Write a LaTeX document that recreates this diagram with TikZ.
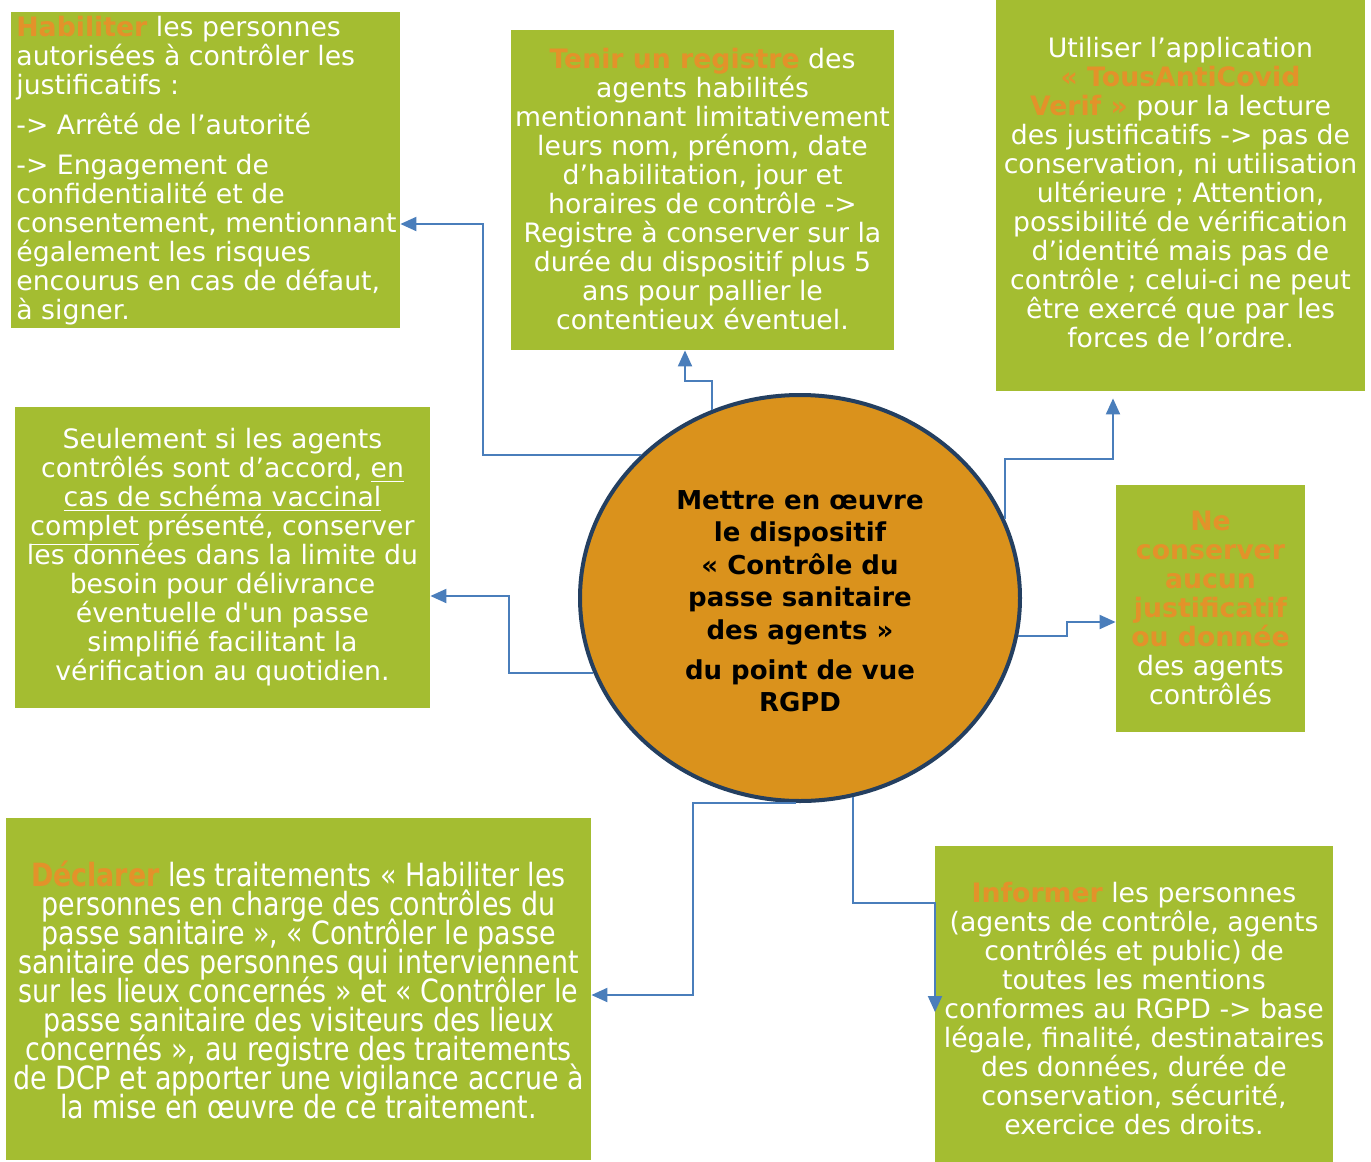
\documentclass[tikz,border=0pt]{standalone}
\usepackage{fontspec}
\setmainfont{DejaVu Sans}
\newfontfamily\condfont{DejaVu Sans}[FakeStretch=0.84]
\usetikzlibrary{arrows.meta,shapes.geometric}
\definecolor{boxgreen}{HTML}{A4BD31}
\definecolor{hiorange}{HTML}{E3922A}
\definecolor{circfill}{HTML}{DA921C}
\definecolor{circline}{HTML}{243F60}
\definecolor{linkblue}{HTML}{4A7EBB}
\newcommand\hl[1]{\textcolor{hiorange}{\bfseries #1}}
\lineskiplimit=-100pt
\tikzset{
  gbox/.style={rectangle, fill=boxgreen, inner sep=0pt},
  gtext/.style={inner sep=0pt, text=white, align=center, font=\fontsize{13.35}{14.5}\selectfont},
  ctext/.style={inner sep=0pt, text=white, align=center, font=\condfont\fontsize{16}{14.5}\selectfont},
  conn/.style={draw=linkblue, line width=1pt, -{Triangle[length=8pt,width=7pt]}},
}
\begin{document}
\begin{tikzpicture}[x=0.5pt,y=-0.5pt]
\fill[white] (0,0) rectangle (1371,1162);
\useasboundingbox (0,0) rectangle (1371,1162);

% boxes
\node[gbox, minimum width=194.5pt, minimum height=158pt] (tl) at (205.5,170) {};
\node[gbox, minimum width=191.5pt, minimum height=160pt] (tm) at (702.5,190) {};
\node[gbox, minimum width=184.5pt, minimum height=195.5pt] (tr) at (1180.5,195.5) {};
\node[gbox, minimum width=207.5pt, minimum height=150.5pt] (ml) at (222.5,557.5) {};
\node[gbox, minimum width=94.5pt, minimum height=123.5pt] (mr) at (1210.5,608.5) {};
\node[gbox, minimum width=292.5pt, minimum height=171pt] (bl) at (298.5,989) {};
\node[gbox, minimum width=199pt, minimum height=158pt] (br) at (1134,1004) {};

% centre
\node[ellipse, fill=circfill, draw=circline, line width=2pt, inner sep=0pt,
      minimum width=220pt, minimum height=203pt] (c) at (800,598) {};
\node[inner sep=0pt, align=center, font=\bfseries\fontsize{13}{16.25}\selectfont] (ct) at (800,601)
 {Mettre en œuvre\\le dispositif\\« Contrôle du\\passe sanitaire\\des agents »\\[3.75pt]du point de vue\\RGPD};

% texts
\node[gtext, align=left, anchor=west] (tlt) at (16,171)
 {\hl{Habiliter} les personnes\\autorisées à contrôler les\\justificatifs :\\[5.5pt]-> Arrêté de l’autorité\\[5.5pt]-> Engagement de\\confidentialité et de\\consentement, mentionnant\\également les risques\\encourus en cas de défaut,\\à signer.};
\node[gtext] (tmt) at (702.5,189)
 {\hl{Tenir un registre} des\\agents habilités\\mentionnant limitativement\\leurs nom, prénom, date\\d’habilitation, jour et\\horaires de contrôle ->\\Registre à conserver sur la\\durée du dispositif plus 5\\ans pour pallier le\\contentieux éventuel.};
\node[gtext] (trt) at (1180.5,193)
 {Utiliser l’application\\\hl{« TousAntiCovid}\\\hl{Verif »} pour la lecture\\des justificatifs -> pas de\\conservation, ni utilisation\\ultérieure ; Attention,\\possibilité de vérification\\d’identité mais pas de\\contrôle ; celui-ci ne peut\\être exercé que par les\\forces de l’ordre.};
\node[gtext] (mlt) at (222.5,557.5)
 {Seulement si les agents\\contrôlés sont d’accord, \underline{en}\\\underline{cas de schéma vaccinal}\\\underline{complet} présenté, conserver\\les données dans la limite du\\besoin pour délivrance\\éventuelle d\textquotesingle un passe\\simplifié facilitant la\\vérification au quotidien.};
\node[gtext] (mrt) at (1210.5,608)
 {\hl{Ne}\\\hl{conserver}\\\hl{aucun}\\\hl{justificatif}\\\hl{ou donnée}\\des agents\\contrôlés};
\node[ctext] (blt) at (298.5,989.5)
 {\hl{Déclarer} les traitements « Habiliter les\\personnes en charge des contrôles du\\passe sanitaire », « Contrôler le passe\\sanitaire des personnes qui interviennent\\sur les lieux concernés » et « Contrôler le\\passe sanitaire des visiteurs des lieux\\concernés », au registre des traitements\\de DCP et apporter une vigilance accrue à\\la mise en œuvre de ce traitement.};
\node[gtext] (brt) at (1134,1009)
 {\hl{Informer} les personnes\\(agents de contrôle, agents\\contrôlés et public) de\\toutes les mentions\\conformes au RGPD -> base\\légale, finalité, destinataires\\des données, durée de\\conservation, sécurité,\\exercice des droits.};

% waypoints
\coordinate (k1) at (483,224);
\coordinate (k2) at (685,381);
\coordinate (k3) at (1113,459);
\coordinate (k4) at (1067,622);
\coordinate (k5) at (509,596);
\coordinate (k6) at (693,995);
\coordinate (k7) at (935,903);
\coordinate (k7e) at (935,1012);

% connectors
\draw[conn] (c.138) -| (k1) -- (k1 -| tl.east);
\draw[conn] (c.115) |- (k2) -- (k2 |- tm.south);
\draw[conn, shorten >=3.5pt] (c.21) |- (k3) -- (k3 |- tr.south);
\draw[conn] (c.-10) -| (k4) -- (k4 -| mr.west);
\draw[conn] (c.200) -| (k5) -- (k5 -| ml.east);
\draw[conn] (c.269) -| (k6) -- (k6 -| bl.east);
\draw[conn] (c.285) |- (k7) -- (k7e);
\end{tikzpicture}
\end{document}
